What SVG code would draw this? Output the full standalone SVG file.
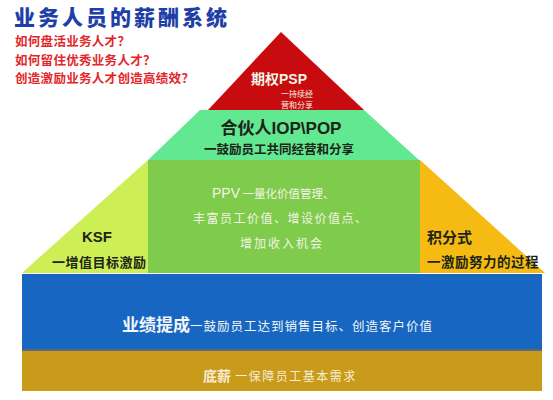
<svg xmlns="http://www.w3.org/2000/svg" width="553" height="400" viewBox="0 0 553 400">
<style>
text{font-family:"Noto Sans CJK SC","Liberation Sans",sans-serif}
.title{font-size:21px;font-weight:900;fill:#1F3FA8;letter-spacing:3px}
.q{font-size:12.5px;font-weight:700;fill:#E3262A;letter-spacing:0.3px}
.dk{fill:#1C2418;font-weight:700}
.lt{fill:#F2F4E6}
.hdr{font-family:"Liberation Sans","Noto Sans CJK SC",sans-serif;font-weight:700}
</style>
<rect width="553" height="400" fill="#FFFFFF"/>
<g id="title">
<text class="title" x="14" y="25">业务人员的薪酬系统</text>
<text class="q" x="15" y="46">如何盘活业务人才？</text>
<text class="q" x="15" y="64.5">如何留住优秀业务人才？</text>
<text class="q" x="15" y="83">创造激励业务人才创造高绩效？</text>
</g>
<g id="psp">
<polygon points="281,32 208,110 364,110" fill="#C80B0E"/>
<text x="279" y="84" text-anchor="middle" class="lt" style="font-size:14px;font-weight:700">期权<tspan class="hdr">PSP</tspan></text>
<text x="297" y="97" text-anchor="middle" class="lt" style="font-size:8px">一持续经</text>
<text x="297" y="108" text-anchor="middle" class="lt" style="font-size:8px">营和分享</text>
</g>
<g id="iop">
<polygon points="200,110 364,110 419,160 148,160" fill="#62E891"/>
<text x="281" y="134" text-anchor="middle" class="dk" style="font-size:17px">合伙人<tspan class="hdr">IOP\POP</tspan></text>
<text x="279" y="154" text-anchor="middle" class="dk" style="font-size:12.5px">一鼓励员工共同经营和分享</text>
</g>
<g id="ksf">
<polygon points="148,160 148,273 22,273" fill="#CDEE55"/>
<text x="82" y="242" class="dk hdr" style="font-size:15px">KSF</text>
<text x="52" y="267" class="dk" style="font-size:13px;letter-spacing:0.5px">一增值目标激励</text>
</g>
<g id="ppv">
<rect x="148" y="160" width="272" height="113" fill="#7FCB4B"/>
<text x="212" y="198" class="lt" style="font-size:14px"><tspan class="hdr" style="font-weight:400">PPV</tspan><tspan font-size="11.5"> 一量化价值管理、</tspan></text>
<text x="193" y="223" class="lt" style="font-size:12px;letter-spacing:1.5px">丰富员工价值、增设价值点、</text>
<text x="240" y="248" class="lt" style="font-size:12px;letter-spacing:2px">增加收入机会</text>
</g>
<g id="jifen">
<polygon points="420,160 545,273 420,273" fill="#F5BB12"/>
<text x="427" y="243" class="dk" style="font-size:15px">积分式</text>
<text x="427" y="267" class="dk" style="font-size:13.5px;letter-spacing:0.5px">一激励努力的过程</text>
</g>
<g id="yeji">
<rect x="22" y="274" width="520" height="76" fill="#1767C2"/>
<rect x="22" y="349" width="520" height="2" fill="#5A6A70"/>
<text x="122" y="331" fill="#F4F6F8" style="font-size:17px;font-weight:700">业绩提成<tspan font-size="12.5" font-weight="400" letter-spacing="1">一鼓励员工达到销售目标、创造客户价值</tspan></text>
</g>
<g id="dixin">
<rect x="22" y="351" width="520" height="40" fill="#CA9A1A"/>
<text x="203" y="381" fill="#F6EDD2" style="font-size:14px;font-weight:700">底薪<tspan font-size="12" font-weight="400" letter-spacing="1.5"> 一保障员工基本需求</tspan></text>
</g>
<g id="connectors"></g>
</svg>
